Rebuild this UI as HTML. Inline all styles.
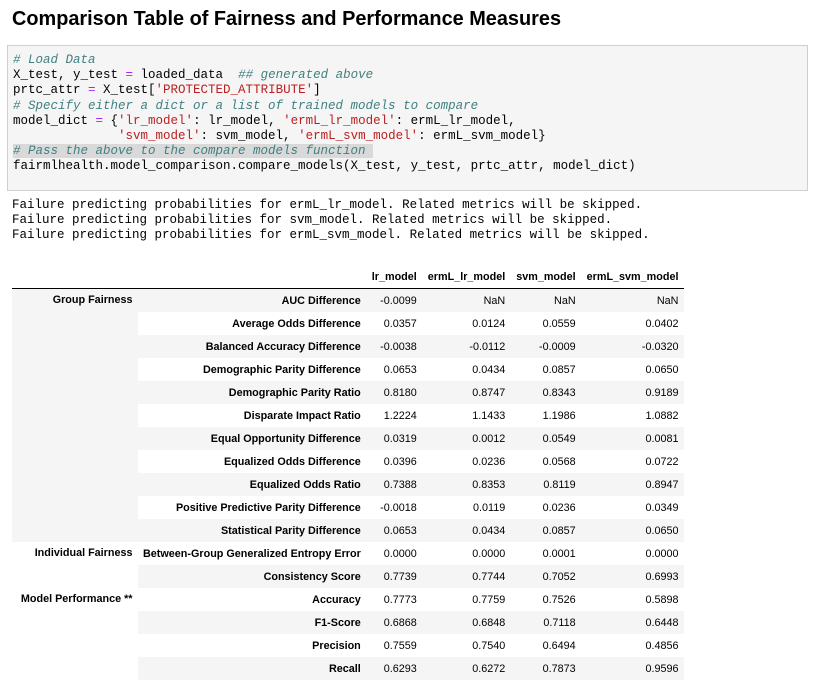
<!DOCTYPE html>
<html><head><meta charset="utf-8">
<style>
body{margin:0;width:816px;height:690px;background:#fff;position:relative;overflow:hidden;font-family:"Liberation Sans",Arial,sans-serif;}
#title{position:absolute;left:12px;top:8px;font-size:19.9px;font-weight:bold;color:#000;margin:0;}
#code{position:absolute;left:7px;top:45px;width:799px;height:144px;background:#f5f5f5;border:1px solid #cfcfcf;}
pre{margin:0;font-family:"Liberation Mono",monospace;font-size:12.5px;line-height:15.2px;}
#code pre{position:absolute;left:5px;top:7px;color:#000;}
.c{color:#408080;font-style:italic}.s{color:#ba2121}.o{color:#aa22ff}
.hl{background:#d9d9d9}
#out{position:absolute;left:12px;top:198px;color:#000;}
table{position:absolute;left:12px;top:266px;border-collapse:collapse;font-size:10.8px;color:#000;}
th,td{padding:0 5.5px;height:23px;text-align:right;white-space:nowrap;}
thead th{height:22px;border-bottom:1px solid #000;font-weight:bold;}
tbody th{font-weight:bold;}
tbody tr:nth-child(odd){background:#f5f5f5}
tbody tr:nth-child(even){background:#fff}
th.l0{vertical-align:top;padding-top:5px;padding-right:5px;width:115px;}
</style></head><body>
<h1 id="title">Comparison Table of Fairness and Performance Measures</h1>
<div id="code"><pre><span class="c"># Load Data</span>
X_test, y_test <span class="o">=</span> loaded_data  <span class="c">## generated above</span>
prtc_attr <span class="o">=</span> X_test[<span class="s">'PROTECTED_ATTRIBUTE'</span>]
<span class="c"># Specify either a dict or a list of trained models to compare</span>
model_dict <span class="o">=</span> {<span class="s">'lr_model'</span>: lr_model, <span class="s">'ermL_lr_model'</span>: ermL_lr_model,
              <span class="s">'svm_model'</span>: svm_model, <span class="s">'ermL_svm_model'</span>: ermL_svm_model}
<span class="c hl"># Pass the above to the compare models function </span>
fairmlhealth.model_comparison.compare_models(X_test, y_test, prtc_attr, model_dict)</pre></div>
<pre id="out">Failure predicting probabilities for ermL_lr_model. Related metrics will be skipped.
Failure predicting probabilities for svm_model. Related metrics will be skipped.
Failure predicting probabilities for ermL_svm_model. Related metrics will be skipped.</pre>
<table id="tbl">
<thead><tr><th></th><th style="width:212px"></th><th style="width:44px">lr_model</th><th style="width:76px">ermL_lr_model</th><th style="width:58px">svm_model</th><th style="width:90px">ermL_svm_model</th></tr></thead>
<tbody id="tb"></tbody></table>
<script>
const groups=[["Group Fairness",11],["Individual Fairness",2],["Model Performance **",4]];
const metrics=["AUC Difference","Average Odds Difference","Balanced Accuracy Difference","Demographic Parity Difference","Demographic Parity Ratio","Disparate Impact Ratio","Equal Opportunity Difference","Equalized Odds Difference","Equalized Odds Ratio","Positive Predictive Parity Difference","Statistical Parity Difference","Between-Group Generalized Entropy Error","Consistency Score","Accuracy","F1-Score","Precision","Recall"];
const lrModel=["-0.0099","0.0357","-0.0038","0.0653","0.8180","1.2224","0.0319","0.0396","0.7388","-0.0018","0.0653","0.0000","0.7739","0.7773","0.6868","0.7559","0.6293"];
const ermLLr=["NaN","0.0124","-0.0112","0.0434","0.8747","1.1433","0.0012","0.0236","0.8353","0.0119","0.0434","0.0000","0.7744","0.7759","0.6848","0.7540","0.6272"];
const svmModel=["NaN","0.0559","-0.0009","0.0857","0.8343","1.1986","0.0549","0.0568","0.8119","0.0236","0.0857","0.0001","0.7052","0.7526","0.7118","0.6494","0.7873"];
const ermLSvm=["NaN","0.0402","-0.0320","0.0650","0.9189","1.0882","0.0081","0.0722","0.8947","0.0349","0.0650","0.0000","0.6993","0.5898","0.6448","0.4856","0.9596"];
const tb=document.getElementById('tb');
let gi=0,left=0;
metrics.forEach((m,i)=>{
  const tr=document.createElement('tr');
  
  
  if(left===0){
    const th=document.createElement('th');
    th.className='l0';
    th.rowSpan=groups[gi][1];
    th.textContent=groups[gi][0];
    
    
    tr.appendChild(th);
    left=groups[gi][1];gi++;
  }
  left--;
  const mh=document.createElement('th');
  mh.textContent=m;
  
  
  tr.appendChild(mh);
  [lrModel,ermLLr,svmModel,ermLSvm].forEach(arr=>{
    const td=document.createElement('td');
    td.textContent=arr[i];
    
    
    tr.appendChild(td);
  });
  tb.appendChild(tr);
});
</script>
</body></html>
